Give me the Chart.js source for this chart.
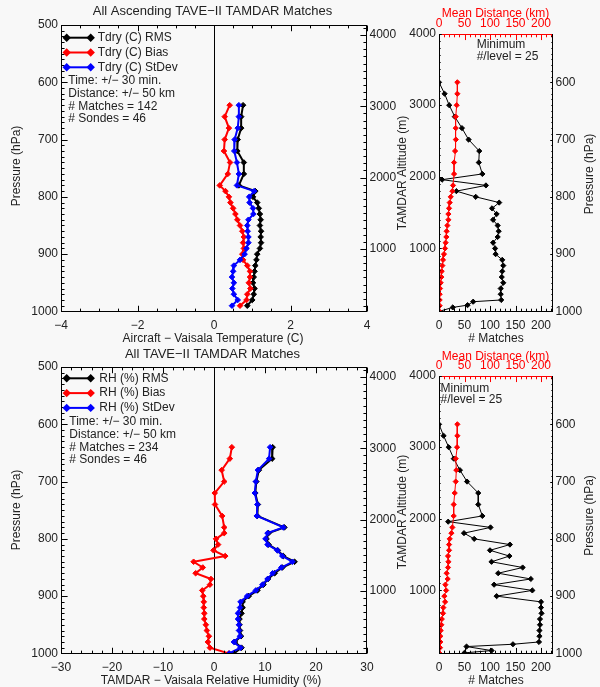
<!DOCTYPE html>
<html>
<head>
<meta charset="utf-8">
<title>TAVE-II TAMDAR matches</title>
<script src="https://cdn.jsdelivr.net/npm/chart.js@4.4.1/dist/chart.umd.min.js"></script>
<style>
  body { margin: 0; background: #f8f8f8; }
  #page { position: relative; width: 600px; height: 687px; }
  #page canvas { position: absolute; left: 0; top: 0; }
</style>
</head>
<body>
<div id="page">
  <canvas id="tempChart" width="600" height="687"></canvas>
  <canvas id="tempMatchChart" width="600" height="687"></canvas>
  <canvas id="rhChart" width="600" height="687"></canvas>
  <canvas id="rhMatchChart" width="600" height="687"></canvas>
</div>
<script>
// pressure levels (hPa) of the statistics profiles
const tempLevels = [640, 660, 680, 700, 720, 740, 760, 780, 790, 800, 810, 820, 830, 840, 850,
  860, 870, 880, 890, 900, 910, 920, 930, 940, 950, 960, 970, 980, 990]
const tdryRms = [0.76, 0.71, 0.71, 0.62, 0.61, 0.78, 0.78, 0.65, 1.08, 1.02, 1.13, 1.17, 1.20, 1.22, 1.20,
  1.23, 1.22, 1.23, 1.20, 1.13, 1.11, 1.08, 1.06, 1.04, 1.02, 1.06, 1.04, 1.00, 0.87]
const tdryBias = [0.41, 0.28, 0.39, 0.28, 0.26, 0.42, 0.36, 0.15, 0.30, 0.39, 0.43, 0.50, 0.56, 0.61, 0.68,
  0.74, 0.78, 0.76, 0.78, 0.74, 0.76, 0.87, 0.94, 0.94, 0.91, 0.95, 0.87, 0.85, 0.68]
const tdryStd = [0.65, 0.65, 0.62, 0.54, 0.53, 0.60, 0.65, 0.60, 1.05, 0.92, 0.93, 1.02, 1.03, 0.90, 0.87,
  0.88, 0.90, 0.90, 0.85, 0.80, 0.68, 0.52, 0.50, 0.47, 0.52, 0.48, 0.52, 0.62, 0.47]

const rhLevels = [640, 660, 680, 700, 720, 740, 760, 780, 790, 800, 810, 820, 830, 840, 850,
  860, 870, 880, 890, 900, 910, 920, 930, 940, 950, 960, 970, 980, 990, 1000]
const rhRms = [11.5, 11.4, 8.8, 8.3, 8.1, 8.6, 8.5, 13.8, 10.7, 10.3, 10.7, 12.5, 13.6, 15.8, 13.4,
  11.9, 10.6, 9.7, 8.5, 6.8, 5.6, 5.6, 5.4, 5.0, 5.0, 5.1, 5.3, 4.1, 5.4, 3.9]
const rhBias = [3.5, 3.1, 1.5, 2.0, 0.15, 0.2, 1.6, 2.0, 2.0, 0.4, 0.8, -0.1, 2.2, -4.0, -2.2,
  -3.6, -0.6, -0.8, -2.3, -2.1, -2.0, -2.0, -1.9, -1.9, -1.6, -1.4, -1.0, -1.2, -0.8, 2.9]
const rhStd = [11.0, 10.8, 8.6, 8.2, 8.0, 8.5, 8.4, 13.6, 10.5, 10.1, 10.5, 12.4, 13.4, 15.4, 13.2,
  11.5, 10.5, 9.5, 8.2, 6.5, 5.2, 5.1, 4.7, 4.7, 4.9, 4.9, 5.1, 3.9, 5.2, 3.0]

// mean distance per level, 600-1000 hPa
const distLevels = [600, 620, 640, 660, 680, 700, 720, 740, 760, 780, 790, 800, 810, 820, 830, 840,
  850, 860, 870, 880, 890, 900, 910, 920, 930, 940, 950, 960, 970, 980, 990, 1000]
const tempDist = [36, 36, 34.7, 32.8, 32.8, 33, 31.5, 29.5, 29.5, 27.5, 26.2, 23, 21, 19.7, 18.4, 18.4,
  16.4, 15, 14.4, 13, 11.8, 9.8, 7.9, 6.6, 5.2, 4.6, 3.3, 2, 1.3, 1.3, 1.3, 0.7]
const rhDist = [36, 36, 35.4, 32.8, 34, 32.8, 30.8, 28.8, 28.8, 26.2, 24.3, 21, 19.7, 19.7, 17.7, 18.5,
  17.7, 15, 17, 12.5, 14, 10.5, 12, 8.5, 7.9, 5.5, 4.6, 3.3, 2.6, 2.6, 2, 1.3]

// number of matches per level
const tempMatchLevels = [600, 620, 640, 660, 680, 700, 720, 740, 760, 770, 780, 790, 800, 810, 820,
  830, 840, 850, 860, 870, 880, 890, 900, 910, 920, 930, 940, 950, 960, 970, 980, 983, 989, 993, 1000]
const tempMatches = [0, 11, 20, 31, 45, 58, 79, 78, 85, 6, 92, 34, 72, 118, 104,
  113, 106, 115, 117, 115, 106, 110, 111, 124, 126, 124, 123, 126, 121, 121, 122, 67, 56, 27, 0]
const rhMatchLevels = [600, 620, 640, 660, 680, 700, 720, 740, 760, 770, 780, 790, 800, 810, 820,
  830, 840, 850, 860, 870, 880, 890, 900, 910, 920, 930, 940, 950, 960, 970, 980, 984, 988, 995, 999]
const rhMatches = [0, 9, 19, 29, 41, 55, 77, 77, 85, 18, 101, 49, 69, 139, 100,
  138, 103, 164, 116, 180, 108, 183, 113, 200, 200, 201, 198, 198, 197, 197, 196, 145, 54, 103, 50]

const FONT = '12px "Liberation Sans", Arial, sans-serif'
const TITLE_FONT = '13px "Liberation Sans", Arial, sans-serif'
const TEXT = '#222222'
const RED = '#ff0000'
const BLUE = '#0000ff'
const BLACK = '#000000'

function pts(levels, values) {
  return levels.map((p, i) => ({ x: values[i], y: p }))
}

function series(label, levels, values, color, width, radius, order) {
  return {
    label,
    data: pts(levels, values),
    showLine: true,
    borderColor: color,
    backgroundColor: color,
    borderWidth: width,
    pointStyle: 'rectRot',
    pointRadius: radius,
    pointBorderWidth: 1,
    pointBorderColor: color,
    pointBackgroundColor: color,
    order
  }
}

function label(v) {
  return String(v).replace('-', '\u2212')
}

// IDL style box axes: inward major/minor ticks, labels outside
function drawAxis(chart, ax) {
  const { ctx, chartArea: a } = chart
  const s = chart.scales[ax.scale]
  const horiz = ax.side === 'top' || ax.side === 'bottom'
  const major = horiz ? 0.02 * (a.bottom - a.top) : 0.02 * (a.right - a.left)
  const L = Math.round(a.left) + 0.5
  const R = Math.round(a.right) - 0.5
  const T = Math.round(a.top) + 0.5
  const B = Math.round(a.bottom) - 0.5
  const color = ax.color || BLACK
  ctx.strokeStyle = color
  ctx.lineWidth = 1
  ctx.beginPath()
  if (ax.side === 'bottom') { ctx.moveTo(L - 0.5, B); ctx.lineTo(R + 0.5, B) }
  if (ax.side === 'top') { ctx.moveTo(L - 0.5, T); ctx.lineTo(R + 0.5, T) }
  if (ax.side === 'left') { ctx.moveTo(L, T - 0.5); ctx.lineTo(L, B + 0.5) }
  if (ax.side === 'right') { ctx.moveTo(R, T - 0.5); ctx.lineTo(R, B + 0.5) }
  ctx.stroke()

  const first = Math.ceil(s.min / ax.minor - 1e-9)
  const last = Math.floor(s.max / ax.minor + 1e-9)
  const marks = []
  ctx.beginPath()
  for (let k = first; k <= last; k++) {
    const v = Math.round(k * ax.minor * 1000) / 1000
    const isMajor = Math.abs(v / ax.major - Math.round(v / ax.major)) < 1e-6
    const len = isMajor ? major : major / 2
    const pix = s.getPixelForValue(v)
    const p = Math.round(pix) + 0.5
    if (ax.side === 'bottom') { ctx.moveTo(p, B); ctx.lineTo(p, B - len) }
    if (ax.side === 'top') { ctx.moveTo(p, T); ctx.lineTo(p, T + len) }
    if (ax.side === 'left') { ctx.moveTo(L, p); ctx.lineTo(L + len, p) }
    if (ax.side === 'right') { ctx.moveTo(R, p); ctx.lineTo(R - len, p) }
    if (isMajor && ax.labels) marks.push([v, pix])
  }
  ctx.stroke()

  ctx.font = FONT
  ctx.fillStyle = ax.color || TEXT
  ctx.textBaseline = 'middle'
  marks.forEach(([v, pix]) => {
    if (ax.side === 'bottom') { ctx.textAlign = 'center'; ctx.fillText(label(v), pix, a.bottom + 13.5) }
    if (ax.side === 'top') { ctx.textAlign = 'center'; ctx.fillText(label(v), pix, a.top - 9.5) }
    if (ax.side === 'left') { ctx.textAlign = 'right'; ctx.fillText(label(v), a.left - 3, pix) }
    if (ax.side === 'right') { ctx.textAlign = 'left'; ctx.fillText(label(v), a.right + 2.5, pix) }
  })
}

function drawText(ctx, t) {
  ctx.save()
  ctx.font = t.font || FONT
  ctx.fillStyle = t.color || TEXT
  ctx.textAlign = t.align || 'center'
  ctx.textBaseline = 'middle'
  ctx.translate(t.x, t.y)
  if (t.rot) ctx.rotate(t.rot * Math.PI / 180)
  ctx.fillText(t.text, 0, 0)
  ctx.restore()
}

function drawLegend(ctx, rows) {
  rows.forEach(r => {
    ctx.strokeStyle = r.color
    ctx.fillStyle = r.color
    ctx.lineWidth = 2
    ctx.beginPath()
    ctx.moveTo(r.x0, r.y)
    ctx.lineTo(r.x1, r.y)
    ctx.stroke()
    const style = { pointStyle: 'rectRot', radius: 2.8, borderWidth: 1 }
    Chart.helpers.drawPoint(ctx, style, r.x0, r.y)
    Chart.helpers.drawPoint(ctx, style, r.x1, r.y)
    drawText(ctx, { text: r.text, x: r.tx, y: r.y, align: 'left' })
  })
}

function frame(spec) {
  return {
    id: 'frame',
    beforeDatasetsDraw(chart) {
      if (!spec.zeroLine) return
      const { ctx, chartArea: a } = chart
      const x = Math.round(chart.scales.x.getPixelForValue(0)) + 0.5
      ctx.save()
      ctx.strokeStyle = BLACK
      ctx.lineWidth = 1
      ctx.beginPath()
      ctx.moveTo(x, a.top)
      ctx.lineTo(x, a.bottom)
      ctx.stroke()
      ctx.restore()
    },
    afterDatasetsDraw(chart) {
      const { ctx } = chart
      ctx.save()
      spec.axes.forEach(ax => drawAxis(chart, ax))
      const texts = spec.texts || []
      texts.forEach(t => drawText(ctx, t))
      drawLegend(ctx, spec.legend || [])
      ctx.restore()
    }
  }
}

function baseOptions(padding, scales) {
  return {
    responsive: false,
    animation: false,
    events: [],
    layout: { padding, autoPadding: false },
    plugins: { legend: { display: false }, tooltip: { enabled: false } },
    scales
  }
}

function legendRows(names, top, textX) {
  const colors = [BLACK, RED, BLUE]
  return names.map((text, i) => ({
    text, color: colors[i], x0: 66.7, x1: 90.7, y: top + i * 14.8, tx: textX
  }))
}

function noteRows(lines, x, top) {
  const steps = [0, 12.8, 25.8, 38.3]
  return lines.map((text, i) => ({ text, x, y: top + steps[i], align: 'left' }))
}

// Temperature statistics
new Chart(document.getElementById('tempChart'), {
  type: 'scatter',
  data: {
    datasets: [
      series('Tdry (C) RMS', tempLevels, tdryRms, BLACK, 2, 2.8, 3),
      series('Tdry (C) Bias', tempLevels, tdryBias, RED, 2, 2.8, 2),
      series('Tdry (C) StDev', tempLevels, tdryStd, BLUE, 2, 2.8, 1)
    ]
  },
  options: baseOptions({ left: 61, top: 25, right: 233, bottom: 375 }, {
    x: { type: 'linear', min: -4, max: 4, display: false },
    y: { type: 'linear', min: 500, max: 1001, reverse: true, display: false },
    alt: { type: 'linear', position: 'right', min: 115, max: 4140, display: false }
  }),
  plugins: [frame({
    zeroLine: true,
    axes: [
      { scale: 'x', side: 'bottom', major: 2, minor: 0.5, labels: true },
      { scale: 'x', side: 'top', major: 2, minor: 0.5 },
      { scale: 'y', side: 'left', major: 100, minor: 10, labels: true },
      { scale: 'alt', side: 'right', major: 1000, minor: 100, labels: true }
    ],
    texts: [
      { text: 'All Ascending TAVE\u2212II TAMDAR Matches', x: 212.5, y: 11, font: TITLE_FONT },
      { text: 'Aircraft \u2212 Vaisala Temperature (C)', x: 213, y: 338.5 },
      { text: 'Pressure (hPa)', x: 17, y: 166, rot: -90 }
    ].concat(noteRows(['Time: +/\u2212 30 min.', 'Distance: +/\u2212 50 km', '# Matches = 142', '# Sondes = 46'], 68.3, 80.7)),
    legend: legendRows(['Tdry (C) RMS', 'Tdry (C) Bias', 'Tdry (C) StDev'], 37.7, 97.7)
  })]
})

// Temperature matches and mean distance
new Chart(document.getElementById('tempMatchChart'), {
  type: 'scatter',
  data: {
    datasets: [
      series('# Matches', tempMatchLevels, tempMatches, BLACK, 1, 2.6, 2),
      { ...series('Mean Distance (km)', distLevels, tempDist, RED, 1, 2.6, 1), xAxisID: 'x2' }
    ]
  },
  options: baseOptions({ left: 439, top: 33.5, right: 47, bottom: 375 }, {
    x: { type: 'linear', min: 0, max: 223.5, display: false },
    x2: { type: 'linear', position: 'top', min: 0, max: 223.5, display: false },
    y: { type: 'linear', position: 'right', min: 514.8, max: 1001, reverse: true, display: false },
    alt: { type: 'linear', position: 'left', min: 112, max: 4000, display: false }
  }),
  plugins: [frame({
    axes: [
      { scale: 'x', side: 'bottom', major: 50, minor: 10, labels: true },
      { scale: 'x2', side: 'top', major: 50, minor: 10, labels: true, color: RED },
      { scale: 'alt', side: 'left', major: 1000, minor: 100, labels: true },
      { scale: 'y', side: 'right', major: 100, minor: 10, labels: true }
    ],
    texts: [
      { text: '# Matches', x: 496, y: 338.5 },
      { text: 'Mean Distance (km)', x: 495.5, y: 14, color: RED },
      { text: 'TAMDAR Altitude (m)', x: 402.7, y: 173, rot: -90 },
      { text: 'Pressure (hPa)', x: 590, y: 174, rot: -90 },
      { text: 'Minimum', x: 476.7, y: 45, align: 'left' },
      { text: '#/level = 25', x: 476.7, y: 56.7, align: 'left' }
    ]
  })]
})

// Relative humidity statistics
new Chart(document.getElementById('rhChart'), {
  type: 'scatter',
  data: {
    datasets: [
      series('RH (%) RMS', rhLevels, rhRms, BLACK, 2, 2.8, 3),
      series('RH (%) Bias', rhLevels, rhBias, RED, 2, 2.8, 2),
      series('RH (%) StDev', rhLevels, rhStd, BLUE, 2, 2.8, 1)
    ]
  },
  options: baseOptions({ left: 61, top: 367, right: 233, bottom: 33 }, {
    x: { type: 'linear', min: -30, max: 30, display: false },
    y: { type: 'linear', min: 500, max: 1001, reverse: true, display: false },
    alt: { type: 'linear', position: 'right', min: 115, max: 4140, display: false }
  }),
  plugins: [frame({
    zeroLine: true,
    axes: [
      { scale: 'x', side: 'bottom', major: 10, minor: 2, labels: true },
      { scale: 'x', side: 'top', major: 10, minor: 2 },
      { scale: 'y', side: 'left', major: 100, minor: 10, labels: true },
      { scale: 'alt', side: 'right', major: 1000, minor: 100, labels: true }
    ],
    texts: [
      { text: 'All TAVE\u2212II TAMDAR Matches', x: 212.5, y: 354, font: TITLE_FONT },
      { text: 'TAMDAR \u2212 Vaisala Relative Humidity (%)', x: 211, y: 680.7 },
      { text: 'Pressure (hPa)', x: 17, y: 510, rot: -90 }
    ].concat(noteRows(['Time: +/\u2212 30 min.', 'Distance: +/\u2212 50 km', '# Matches = 234', '# Sondes = 46'], 69.3, 421.7)),
    legend: legendRows(['RH (%) RMS', 'RH (%) Bias', 'RH (%) StDev'], 378.3, 99.3)
  })]
})

// Relative humidity matches and mean distance
new Chart(document.getElementById('rhMatchChart'), {
  type: 'scatter',
  data: {
    datasets: [
      series('# Matches', rhMatchLevels, rhMatches, BLACK, 1, 2.6, 2),
      { ...series('Mean Distance (km)', distLevels, rhDist, RED, 1, 2.6, 1), xAxisID: 'x2' }
    ]
  },
  options: baseOptions({ left: 439, top: 375.5, right: 47, bottom: 33 }, {
    x: { type: 'linear', min: 0, max: 223.5, display: false },
    x2: { type: 'linear', position: 'top', min: 0, max: 223.5, display: false },
    y: { type: 'linear', position: 'right', min: 514.8, max: 1001, reverse: true, display: false },
    alt: { type: 'linear', position: 'left', min: 112, max: 4000, display: false }
  }),
  plugins: [frame({
    axes: [
      { scale: 'x', side: 'bottom', major: 50, minor: 10, labels: true },
      { scale: 'x2', side: 'top', major: 50, minor: 10, labels: true, color: RED },
      { scale: 'alt', side: 'left', major: 1000, minor: 100, labels: true },
      { scale: 'y', side: 'right', major: 100, minor: 10, labels: true }
    ],
    texts: [
      { text: '# Matches', x: 496, y: 680.7 },
      { text: 'Mean Distance (km)', x: 495.5, y: 356.7, color: RED },
      { text: 'TAMDAR Altitude (m)', x: 402.7, y: 512, rot: -90 },
      { text: 'Pressure (hPa)', x: 590, y: 515.5, rot: -90 },
      { text: 'Minimum', x: 440.5, y: 388.3, align: 'left' },
      { text: '#/level = 25', x: 440.5, y: 399.3, align: 'left' }
    ]
  })]
})
</script>
</body>
</html>
